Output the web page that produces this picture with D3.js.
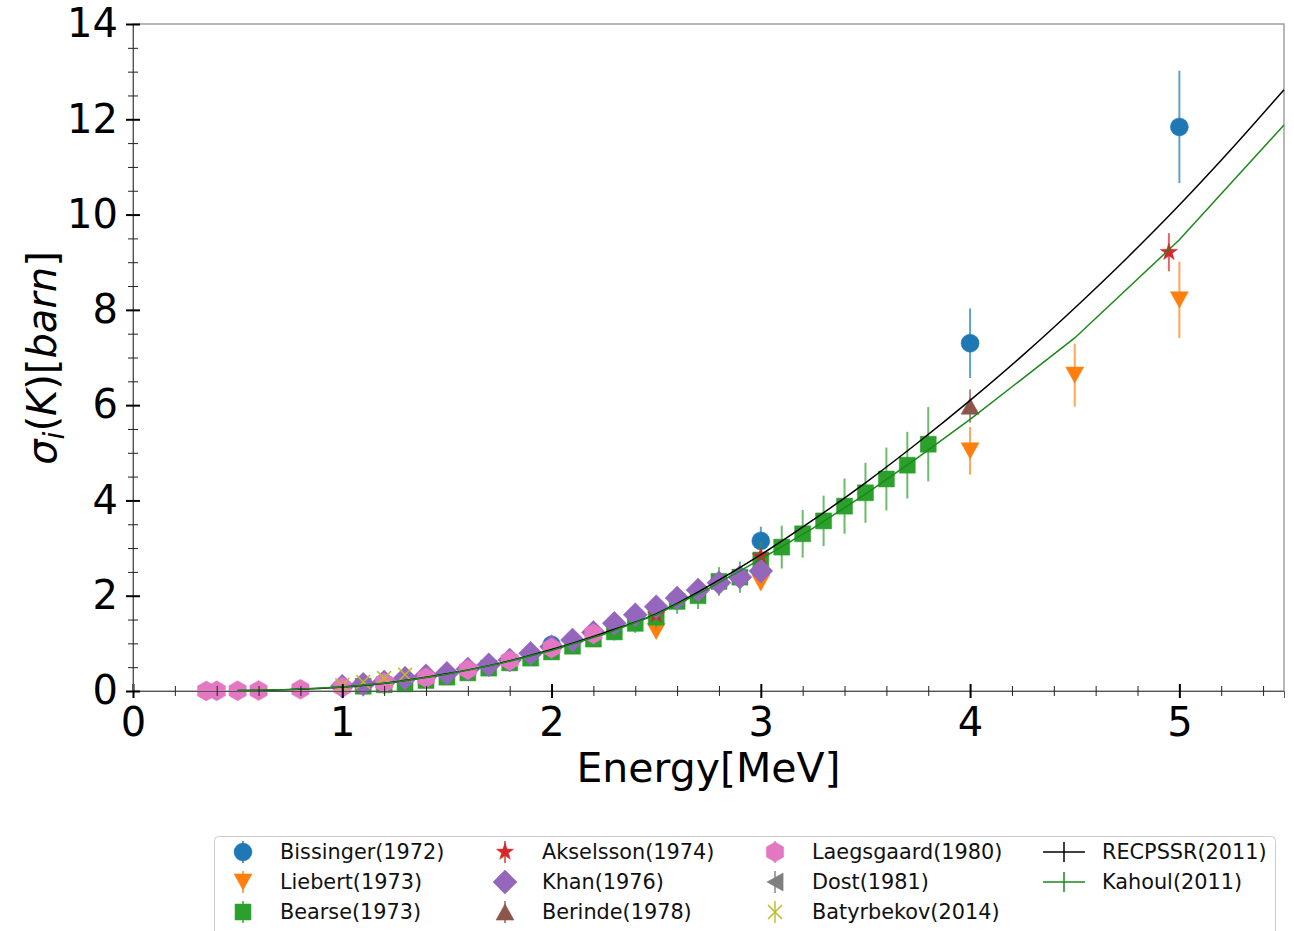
<!DOCTYPE html>
<html><head><meta charset="utf-8">
<script src="https://cdn.jsdelivr.net/npm/d3@7"></script>
<style>body{margin:0;background:#fff}svg{display:block;font-family:"DejaVu Sans",sans-serif}</style>
</head><body>
<svg id="c" width="1294" height="931"></svg>
<script>
// ---------- data ----------
const bissingerE = [2.0, 3.0, 4.0, 5.0];
const bissingerY = [0.97, 3.15, 7.3, 11.84];
const bissingerErr = [0.1, 0.3, 0.73, 1.18];

const liebertE = [2.5, 3.0, 4.0, 4.5, 5.0];
const liebertY = [1.25, 2.27, 5.04, 6.63, 8.21];
const liebertErr = [0.1, 0.15, 0.5, 0.66, 0.8];

const bearseE = [1.1,1.2,1.3,1.4,1.5,1.6,1.7,1.8,1.9,2.0,2.1,2.2,2.3,2.4,2.5,2.6,2.7,2.8,2.9,3.0,3.1,3.2,3.3,3.4,3.5,3.6,3.7,3.8];
const bearseY = [0.10,0.13,0.15,0.22,0.29,0.38,0.48,0.59,0.69,0.82,0.94,1.09,1.24,1.42,1.55,1.88,2.00,2.30,2.39,2.75,3.02,3.30,3.57,3.88,4.16,4.45,4.74,5.18];
const bearseErr = [0.02,0.02,0.03,0.04,0.05,0.06,0.08,0.09,0.10,0.12,0.14,0.16,0.18,0.20,0.22,0.26,0.28,0.30,0.33,0.38,0.45,0.50,0.53,0.58,0.63,0.66,0.70,0.78];

const akselssonE = [2.5, 3.0, 4.95];
const akselssonY = [1.6, 2.82, 9.21];
const akselssonErr = [0.05, 0.1, 0.4];

const khanE = [1.0,1.1,1.2,1.3,1.4,1.5,1.6,1.7,1.8,1.9,2.0,2.1,2.2,2.3,2.4,2.5,2.6,2.7,2.8,2.9,3.0];
const khanY = [0.10,0.14,0.19,0.27,0.32,0.37,0.46,0.55,0.65,0.79,0.93,1.07,1.23,1.42,1.60,1.77,1.95,2.12,2.27,2.39,2.52];
const khanErr = [0.01,0.01,0.02,0.02,0.03,0.03,0.04,0.05,0.06,0.07,0.08,0.09,0.1,0.12,0.13,0.14,0.16,0.17,0.18,0.19,0.2];

const berindeE = [4.0];
const berindeY = [5.98];
const berindeErr = [0.35];

const laegsgaardE = [0.35, 0.4, 0.5, 0.6, 0.8, 1.0, 1.2, 1.4, 1.6, 1.8, 2.0, 2.2];
const laegsgaardY = [0.002, 0.003, 0.005, 0.01, 0.035, 0.08, 0.17, 0.28, 0.45, 0.64, 0.9, 1.2];
const laegsgaardErr = [0,0,0,0,0,0,0,0,0,0,0,0];

const dostE = [];
const dostY = [];
const dostErr = [];

const batyrbekovE = [1.0, 1.1, 1.2, 1.3];
const batyrbekovY = [0.12, 0.19, 0.27, 0.34];
const batyrbekovErr = [0, 0, 0, 0];

const recpssrE = [0.5,0.75,1.0,1.25,1.5,1.75,2.0,2.25,2.5,2.75,3.0,3.25,3.5,3.75,4.0,4.25,4.5,4.75,5.0,5.25,5.5];
const recpssrY = [0.008,0.03,0.085,0.19,0.36,0.58,0.87,1.22,1.62,2.20,2.86,3.59,4.37,5.21,6.10,7.04,8.04,9.09,10.20,11.38,12.62];

const kahoulE = [0.5,0.75,1.0,1.25,1.5,1.75,2.0,2.25,2.5,2.75,3.0,3.25,3.5,3.75,4.0,4.5,5.0,5.5];
const kahoulY = [0.008,0.03,0.083,0.185,0.35,0.57,0.85,1.19,1.60,2.15,2.77,3.42,4.13,4.90,5.70,7.41,9.47,11.88];

const xTicks = [0,1,2,3,4,5];
const yTicks = [0,2,4,6,8,10,12,14];

// ---------- setup ----------
const svg = d3.select("#c");
const L = 133, R = 1284, T = 24, B = 691;
const x = d3.scaleLinear().domain([0, 5.5]).range([L, R]);
const y = d3.scaleLinear().domain([0, 14]).range([B, T]);

const C = {blue:"#1f77b4", orange:"#ff7f0e", green:"#2ca02c", red:"#d62728", purple:"#9467bd",
           brown:"#8c564b", pink:"#e377c2", gray:"#7f7f7f", olive:"#bcbd22"};

function poly(pts){ return "M" + pts.map(p=>p.join(",")).join("L") + "Z"; }
const shapes = {
  circle: s => `M${s},0A${s},${s} 0 1,1 ${-s},0A${s},${s} 0 1,1 ${s},0Z`,
  square: s => poly([[-s,-s],[s,-s],[s,s],[-s,s]]),
  diamond: s => poly([[0,-s],[s,0],[0,s],[-s,0]]),
  triDown: s => poly([[-s,-s*0.9],[s,-s*0.9],[0,s*0.9]]),
  triUp: s => poly([[-s,s*0.9],[s,s*0.9],[0,-s*0.9]]),
  triLeft: s => poly([[s*0.9,-s],[s*0.9,s],[-s*0.9,0]]),
  hexagon: s => poly(d3.range(6).map(i=>{const a=Math.PI/3*i - Math.PI/2; return [s*Math.cos(a), s*Math.sin(a)];})),
  star: s => { const p=[]; for(let i=0;i<10;i++){const r=i%2?s*0.4:s; const a=Math.PI/5*i-Math.PI/2; p.push([r*Math.cos(a), r*Math.sin(a)]);} return poly(p); },
  x: s => `M${-s},${-s}L${s},${s}M${-s},${s}L${s},${-s}`
};

const series = [
  {name:"Bissinger(1972)", E:bissingerE, Y:bissingerY, err:bissingerErr, color:C.blue, shape:"circle", size:9},
  {name:"Liebert(1973)", E:liebertE, Y:liebertY, err:liebertErr, color:C.orange, shape:"triDown", size:9},
  {name:"Bearse(1973)", E:bearseE, Y:bearseY, err:bearseErr, color:C.green, shape:"square", size:8},
  {name:"Akselsson(1974)", E:akselssonE, Y:akselssonY, err:akselssonErr, color:C.red, shape:"star", size:9},
  {name:"Khan(1976)", E:khanE, Y:khanY, err:khanErr, color:C.purple, shape:"diamond", size:12},
  {name:"Berinde(1978)", E:berindeE, Y:berindeY, err:berindeErr, color:C.brown, shape:"triUp", size:9},
  {name:"Laegsgaard(1980)", E:laegsgaardE, Y:laegsgaardY, err:laegsgaardErr, color:C.pink, shape:"hexagon", size:10},
  {name:"Dost(1981)", E:dostE, Y:dostY, err:dostErr, color:C.gray, shape:"triLeft", size:9},
  {name:"Batyrbekov(2014)", E:batyrbekovE, Y:batyrbekovY, err:batyrbekovErr, color:C.olive, shape:"x", size:7}
];
const curves = [
  {name:"RECPSSR(2011)", E:recpssrE, Y:recpssrY, color:"#000000", curve:d3.curveMonotoneX},
  {name:"Kahoul(2011)", E:kahoulE, Y:kahoulY, color:"#1a8a1a", curve:d3.curveLinear}
];

function drawMarker(g, shape, s, color){
  const p = g.append("path").attr("d", shapes[shape](s));
  if (shape === "x") p.attr("fill","none").attr("stroke",color).attr("stroke-width",1.5);
  else p.attr("fill",color).attr("stroke",color).attr("stroke-width",0.5);
  return p;
}

// ---------- spines ----------
svg.append("rect").attr("x",L).attr("y",T).attr("width",R-L).attr("height",B-T)
  .attr("fill","none").attr("stroke","#888").attr("stroke-width",1.2);

// ---------- data marks ----------
const plot = svg.append("g");
series.forEach(s=>{
  const g = plot.append("g");
  const d = s.E.map((e,i)=>({e, v:s.Y[i], err:s.err[i]}));
  g.selectAll("line.err").data(d.filter(p=>p.err>0)).join("line")
    .attr("x1",p=>x(p.e)).attr("x2",p=>x(p.e))
    .attr("y1",p=>y(p.v+p.err)).attr("y2",p=>y(p.v-p.err))
    .attr("stroke",s.color).attr("stroke-opacity",0.7).attr("stroke-width",2);
  d.forEach(p=>{
    const m = g.append("g").attr("transform",`translate(${x(p.e)},${y(p.v)})`);
    drawMarker(m, s.shape, s.size, s.color);
  });
});
curves.forEach(c=>{
  const d = c.E.map((e,i)=>[e, c.Y[i]]);
  plot.append("path").datum(d)
    .attr("d", d3.line().curve(c.curve).x(p=>x(p[0])).y(p=>y(p[1])))
    .attr("fill","none").attr("stroke",c.color).attr("stroke-width",1.5);
});

// ---------- axes ----------
const xMinor = d3.range(0, 5.5001, 0.2).filter(v=>Math.abs(v - Math.round(v))>1e-6);
const yMinor = d3.range(0, 14.001, 0.5).filter(v=>Math.abs(v/2 - Math.round(v/2))>1e-6);

const gx = svg.append("g").attr("transform",`translate(0,${B})`)
  .call(d3.axisBottom(x).tickValues(xTicks).tickFormat(d3.format("d")).tickSize(7).tickPadding(10));
gx.select(".domain").attr("stroke","#555");
gx.selectAll(".tick line").attr("y1",-7).attr("stroke","#000").attr("stroke-width",2);
gx.selectAll(".tick text").attr("font-size",40).attr("font-family","DejaVu Sans").attr("fill","#000");
const gxm = svg.append("g").attr("transform",`translate(0,${B})`)
  .call(d3.axisBottom(x).tickValues(xMinor).tickFormat("").tickSize(5));
gxm.select(".domain").remove();
gxm.selectAll(".tick line").attr("y1",-5).attr("stroke","#222").attr("stroke-width",1);

const gy = svg.append("g").attr("transform",`translate(${L},0)`)
  .call(d3.axisLeft(y).tickValues(yTicks).tickFormat(d3.format("d")).tickSize(7).tickPadding(8));
gy.select(".domain").attr("stroke","#555");
gy.selectAll(".tick line").attr("x1",7).attr("stroke","#000").attr("stroke-width",2);
gy.selectAll(".tick text").attr("font-size",40).attr("font-family","DejaVu Sans").attr("fill","#000");
const gym = svg.append("g").attr("transform",`translate(${L},0)`)
  .call(d3.axisLeft(y).tickValues(yMinor).tickFormat("").tickSize(5));
gym.select(".domain").remove();
gym.selectAll(".tick line").attr("x1",5).attr("stroke","#222").attr("stroke-width",1);

// ---------- labels ----------
svg.append("text").attr("x",(L+R)/2).attr("y",782).attr("text-anchor","middle")
  .attr("font-size",41).attr("fill","#000").text("Energy[MeV]");

const yl = svg.append("text").attr("transform","translate(56,358) rotate(-90)")
  .attr("text-anchor","middle").attr("font-size",40).attr("fill","#000");
yl.append("tspan").attr("font-style","italic").text("σ");
yl.append("tspan").attr("font-style","italic").attr("font-size",28).attr("dy",8).text("i");
yl.append("tspan").attr("dy",-8).text("(");
yl.append("tspan").attr("font-style","italic").text("K");
yl.append("tspan").text(")[");
yl.append("tspan").attr("font-style","italic").text("barn");
yl.append("tspan").text("]");

// ---------- legend ----------
const lg = svg.append("g");
lg.append("rect").attr("x",214.5).attr("y",836.5).attr("width",1061).attr("height",110).attr("rx",4)
  .attr("fill","#fff").attr("stroke","#ccc").attr("stroke-width",1);
const colX = [243, 505, 775];
const rowY = [852, 882, 912];
series.forEach((s,i)=>{
  const cx = colX[Math.floor(i/3)], cy = rowY[i%3];
  const g = lg.append("g").attr("transform",`translate(${cx},${cy})`);
  g.append("line").attr("x1",0).attr("x2",0).attr("y1",-11).attr("y2",11)
    .attr("stroke",s.color).attr("stroke-opacity",0.7).attr("stroke-width",2);
  drawMarker(g, s.shape, s.size, s.color);
  lg.append("text").attr("x",cx+37).attr("y",cy+7).attr("font-size",20.8).attr("fill","#111").text(s.name);
});
curves.forEach((c,i)=>{
  const cy = rowY[i];
  const g = lg.append("g").attr("transform",`translate(1064,${cy})`);
  g.append("line").attr("x1",-21).attr("x2",21).attr("stroke",c.color).attr("stroke-width",1.5);
  g.append("line").attr("y1",-10).attr("y2",10).attr("stroke",c.color).attr("stroke-width",1.5);
  lg.append("text").attr("x",1102).attr("y",cy+7).attr("font-size",20.8).attr("fill","#111").text(c.name);
});
</script>
</body></html>
